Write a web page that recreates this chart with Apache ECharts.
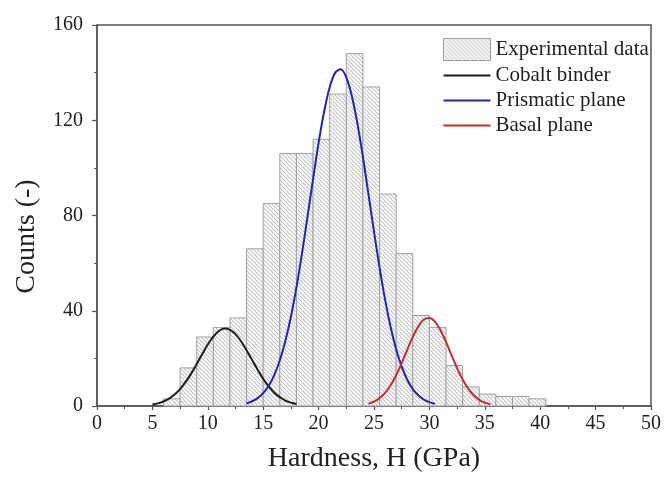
<!DOCTYPE html>
<html>
<head>
<meta charset="utf-8">
<script src="https://cdn.jsdelivr.net/npm/echarts@6/dist/echarts.min.js"></script>
<style>
  html, body { margin: 0; padding: 0; background: #fff; }
  #chart { width: 664px; height: 478px; }
</style>
</head>
<body>
<div id="chart"></div>
<script>
// Histogram bins (GPa) and measured counts
const binEdges = [6, 7.5, 9, 10.5, 12, 13.5, 15, 16.5, 18, 19.5, 21, 22.5, 24, 25.5,
                  27, 28.5, 30, 31.5, 33, 34.5, 36, 37.5, 39, 40.5];
const counts = [3, 16, 29, 33, 37, 66, 85, 106, 106, 112, 131, 148, 134, 89,
                64, 38, 33, 17, 8, 5, 4, 4, 3];

// Fitted peak: cobalt binder
const cobaltH = [5, 5.5, 6, 6.5, 7, 7.5, 8, 8.5, 9, 9.5, 10, 10.5, 11, 11.5, 12, 12.5,
                 13, 13.5, 14, 14.5, 15, 15.5, 16, 16.5, 17, 17.5, 18];
const cobaltCounts = [0.6, 1.1, 1.9, 3.1, 4.8, 7.1, 10.1, 13.6, 17.6, 21.8, 25.8, 29.1,
                      31.5, 32.5, 32.0, 30.2, 27.2, 23.4, 19.3, 15.2, 11.4, 8.2, 5.6,
                      3.7, 2.3, 1.4, 0.8];

// Fitted peak: prismatic plane
const prismaticH = [13.5, 14, 14.5, 15, 15.5, 16, 16.5, 17, 17.5, 18, 18.5, 19, 19.5,
                    20, 20.5, 21, 21.5, 22, 22.5, 23, 23.5, 24, 24.5, 25, 25.5, 26,
                    26.5, 27, 27.5, 28, 28.5, 29, 29.5, 30, 30.5];
const prismaticCounts = [1.1, 2.0, 3.3, 5.4, 8.5, 13.0, 19.2, 27.3, 37.5, 49.8, 64.0,
                         79.5, 95.3, 110.5, 123.7, 133.9, 140.0, 141.4, 138.0, 130.2,
                         118.7, 104.6, 89.0, 73.2, 58.2, 44.7, 33.2, 23.8, 16.5, 11.0,
                         7.1, 4.5, 2.7, 1.6, 0.9];

// Fitted peak: basal plane
const basalH = [24.5, 25, 25.5, 26, 26.5, 27, 27.5, 28, 28.5, 29, 29.5, 30, 30.5, 31,
                31.5, 32, 32.5, 33, 33.5, 34, 34.5, 35, 35.5];
const basalCounts = [1.0, 1.8, 3.3, 5.5, 8.7, 12.9, 18.0, 23.6, 29.0, 33.4, 36.3, 37.0,
                     35.4, 31.8, 26.9, 21.3, 15.9, 11.1, 7.3, 4.5, 2.6, 1.4, 0.7];

// Axis ticks
const xTicks = [0, 5, 10, 15, 20, 25, 30, 35, 40, 45, 50];
const yTicks = [0, 40, 80, 120, 160];

const FONT = '"Liberation Serif", "Times New Roman", serif';

// Diagonal hatch tile used to fill the histogram bars
function makeHatch() {
  const n = 4;
  const c = document.createElement('canvas');
  c.width = n; c.height = n;
  const ctx = c.getContext('2d');
  const img = ctx.createImageData(n, n);
  for (let y = 0; y < n; y++) {
    for (let x = 0; x < n; x++) {
      const k = ((x - y) % n + n) % n;
      let v = 255;
      if (k === 0) v = 196;
      else if (k === 1 || k === n - 1) v = 240;
      const i = (y * n + x) * 4;
      img.data[i] = v; img.data[i + 1] = v; img.data[i + 2] = v; img.data[i + 3] = 255;
    }
  }
  ctx.putImageData(img, 0, 0);
  return { image: c, repeat: 'repeat' };
}
const hatch = makeHatch();

// Thin horizontal bar used as the legend mark of the fitted curves
const LINE_ICON = 'path://M0,0 L47,0 L47,2 L0,2 Z';

const histData = counts.map((v, i) => [binEdges[i], binEdges[i + 1], v]);
const zip = (xs, ys) => xs.map((x, i) => [x, ys[i]]);

const chart = echarts.init(document.getElementById('chart'), null, { renderer: 'canvas' });

const axisText = { color: '#222', fontFamily: FONT, fontSize: 20 };

chart.setOption({
  animation: false,
  backgroundColor: '#fff',
  textStyle: { fontFamily: FONT },
  grid: {
    left: 97, right: 12, top: 25, bottom: 71,
    show: true, borderColor: '#555', borderWidth: 1.5, backgroundColor: 'transparent'
  },
  legend: {
    orient: 'vertical',
    left: 438, top: 33,
    itemWidth: 47, itemHeight: 22, itemGap: 4,
    textStyle: { color: '#222', fontFamily: FONT, fontSize: 21 },
    data: [
      { name: 'Experimental data', icon: 'rect',
        itemStyle: { color: hatch, borderColor: '#a0a0a0', borderWidth: 1 } },
      { name: 'Cobalt binder', icon: LINE_ICON },
      { name: 'Prismatic plane', icon: LINE_ICON },
      { name: 'Basal plane', icon: LINE_ICON }
    ]
  },
  xAxis: {
    type: 'value', min: xTicks[0], max: xTicks[xTicks.length - 1], interval: 5,
    name: 'Hardness, H (GPa)', nameLocation: 'middle', nameGap: 39,
    nameTextStyle: { color: '#222', fontFamily: FONT, fontSize: 28 },
    axisLine: { show: true, onZero: false, lineStyle: { color: '#555', width: 1.5 } },
    axisTick: { show: true, inside: false, length: 4, lineStyle: { color: '#555', width: 1.2 } },
    minorTick: { show: true, splitNumber: 2, length: 3, lineStyle: { color: '#555', width: 1 } },
    axisLabel: Object.assign({ margin: 8 }, axisText),
    splitLine: { show: false }
  },
  yAxis: {
    type: 'value', min: yTicks[0], max: yTicks[yTicks.length - 1], interval: 40,
    name: 'Counts (-)', nameLocation: 'middle', nameGap: 56,
    nameTextStyle: { color: '#222', fontFamily: FONT, fontSize: 28, padding: [0, 42, 0, 0] },
    axisLine: { show: true, lineStyle: { color: '#555', width: 1.5 } },
    axisTick: { show: true, inside: false, length: 5, lineStyle: { color: '#555', width: 1.2 } },
    minorTick: { show: true, splitNumber: 2, length: 3, lineStyle: { color: '#555', width: 1 } },
    axisLabel: Object.assign({ margin: 14 }, axisText),
    splitLine: { show: false }
  },
  series: [
    {
      name: 'Experimental data',
      type: 'custom',
      data: histData,
      encode: { x: [0, 1], y: 2 },
      z: 1,
      itemStyle: { color: '#bbb' },
      renderItem: function (params, api) {
        const top = api.coord([api.value(0), api.value(2)]);
        const base = api.coord([api.value(1), 0]);
        return {
          type: 'rect',
          shape: { x: top[0], y: top[1], width: base[0] - top[0], height: base[1] - top[1] },
          style: { fill: hatch, stroke: '#a0a0a0', lineWidth: 1 }
        };
      }
    },
    {
      name: 'Cobalt binder', type: 'line', data: zip(cobaltH, cobaltCounts),
      smooth: 0.3, symbol: 'none', z: 3, color: '#1e1e1e',
      lineStyle: { color: '#1e1e1e', width: 2 }
    },
    {
      name: 'Prismatic plane', type: 'line', data: zip(prismaticH, prismaticCounts),
      smooth: 0.3, symbol: 'none', z: 3, color: '#2323b8',
      lineStyle: { color: '#2323b8', width: 2 }
    },
    {
      name: 'Basal plane', type: 'line', data: zip(basalH, basalCounts),
      smooth: 0.3, symbol: 'none', z: 3, color: '#cc2a2a',
      lineStyle: { color: '#cc2a2a', width: 2 }
    }
  ]
});
</script>
</body>
</html>
